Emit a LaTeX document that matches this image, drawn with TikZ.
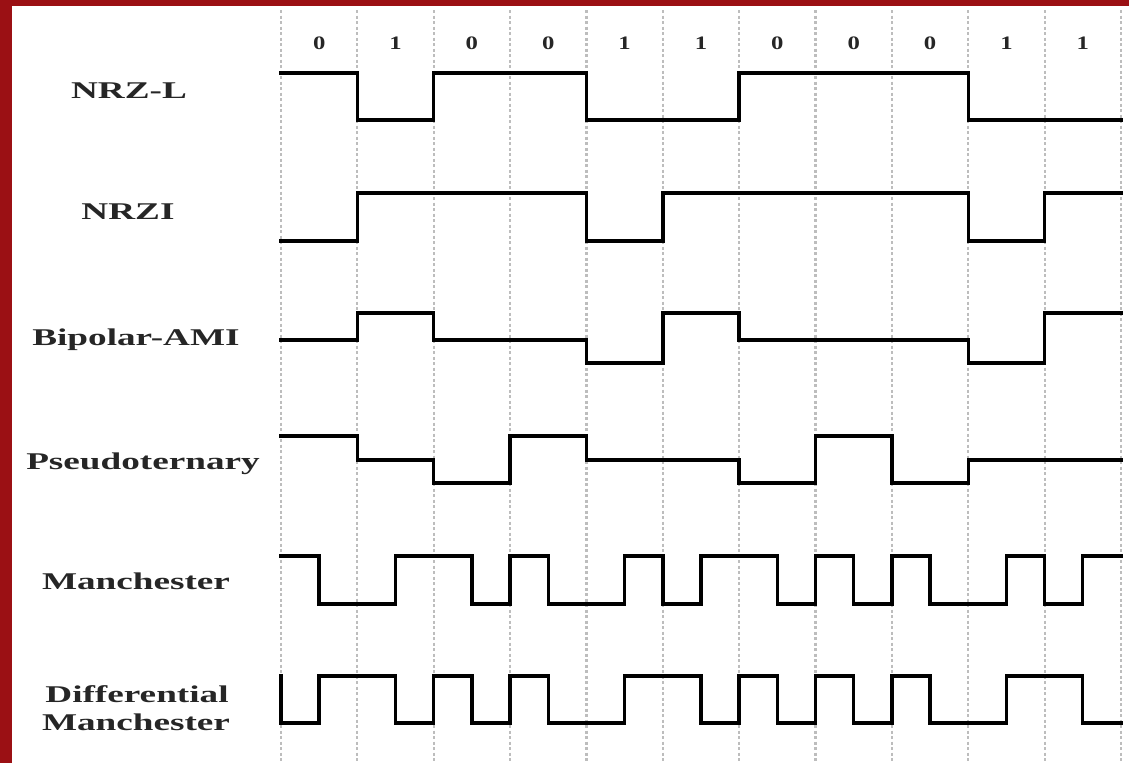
\documentclass[tikz,border=0pt]{standalone}
\usepackage{fontspec}
\setmainfont{Liberation Serif}
\definecolor{frame}{HTML}{9B1014}
\definecolor{gridc}{HTML}{BDBDBD}
\definecolor{txt}{HTML}{262626}
\begin{document}
\begin{tikzpicture}[x=1pt,y=-1pt,
  lbl/.style={font=\bfseries\fontsize{24}{24}\selectfont, text=txt, xscale=1.55, transform shape, anchor=base, inner sep=0pt},
  bitlbl/.style={font=\bfseries\fontsize{19}{19}\selectfont, text=txt, xscale=1.3, transform shape, anchor=center, inner sep=0pt},
  gridln/.style={gridc, line width=2.2pt, dash pattern=on 3pt off 2.5pt},
  wave/.style={black, line width=3.4pt, line join=miter, line cap=rect}]
\useasboundingbox (0,0) rectangle (1129,763);
\fill[white] (0,0) rectangle (1129,763);
\fill[frame] (0,0) rectangle (1129,6);
\fill[frame] (0,0) rectangle (12,763);
% labels
\node[lbl] (nrzl) at (129,98) {NRZ-L};
\node[lbl] (nrzi) at (128,219) {NRZI};
\node[lbl] (ami) at (136,345) {Bipolar-AMI};
\node[lbl] (pseudo) at (143,469) {Pseudoternary};
\node[lbl] (manch) at (136,589) {Manchester};
\node[lbl] (diff1) at (137,702) {Differential};
\node[lbl] (diff2) at (136,730) {Manchester};
\begin{scope}[x=76.36pt, xshift=281pt]
  \foreach \i in {0,...,11} \draw[gridln] (\i,10) -- (\i,763);
  \foreach \b [count=\k from 0] in {0,1,0,0,1,1,0,0,0,1,1}
    \node[bitlbl] (bit\k) at ({\k+0.5},43) {\b};
  % NRZ-L
  \draw[wave] (0,73) -| (1,120) -| (2,73) -| (4,120) -| (6,73) -| (9,120) -- (11,120);
  % NRZI
  \draw[wave] (0,241) -| (1,193) -| (4,241) -| (5,193) -| (9,241) -| (10,193) -- (11,193);
  % Bipolar-AMI
  \draw[wave] (0,340) -| (1,313) -| (2,340) -| (4,363) -| (5,313) -| (6,340) -| (9,363) -| (10,313) -- (11,313);
  % Pseudoternary
  \draw[wave] (0,436) -| (1,460) -| (2,483) -| (3,436) -| (4,460) -| (6,483) -| (7,436) -| (8,483) -| (9,460) -- (11,460);
  % Manchester
  \draw[wave] (0,556) -| (0.5,604) -| (1.5,556) -| (2.5,604) -| (3,556) -| (3.5,604) -| (4.5,556) -| (5,604) -| (5.5,556) -| (6.5,604) -| (7,556) -| (7.5,604) -| (8,556) -| (8.5,604) -| (9.5,556) -| (10,604) -| (10.5,556) -- (11,556);
  % Differential Manchester
  \draw[wave] (0,676) -- (0,723) -| (0.5,676) -| (1.5,723) -| (2,676) -| (2.5,723) -| (3,676) -| (3.5,723) -| (4.5,676) -| (5.5,723) -| (6,676) -| (6.5,723) -| (7,676) -| (7.5,723) -| (8,676) -| (8.5,723) -| (9.5,676) -| (10.5,723) -- (11,723);
\end{scope}
\end{tikzpicture}
\end{document}
